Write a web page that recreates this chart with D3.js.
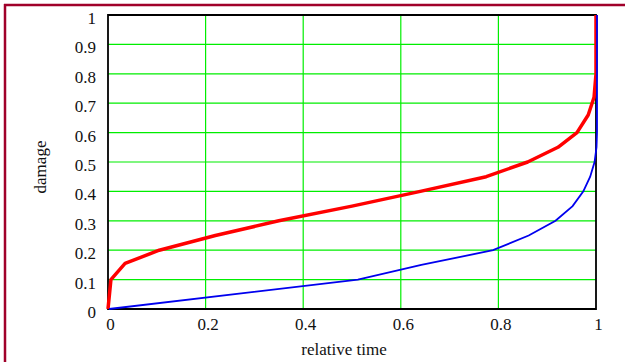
<!doctype html>
<html>
<head>
  <script src="https://d3js.org/d3.v7.min.js"></script>
</head>
<style>
  body {
    margin: 0;
    background: white;
  }
</style>
<body>
<svg></svg>

<script>
  // red curve (thick)
  const redTime = [0, 0.006, 0.035, 0.105, 0.22, 0.35, 0.5, 0.64, 0.775, 0.86, 0.922, 0.961, 0.984, 0.996, 1, 1];
  const redDamage = [0, 0.1, 0.155, 0.2, 0.25, 0.3, 0.35, 0.4, 0.45, 0.5, 0.55, 0.6, 0.66, 0.72, 0.8, 1];
  // blue curve (thin)
  const blueTime = [0, 0.51, 0.64, 0.787, 0.86, 0.915, 0.95, 0.972, 0.986, 0.995, 0.999, 1, 1];
  const blueDamage = [0, 0.1, 0.15, 0.2, 0.25, 0.3, 0.35, 0.4, 0.45, 0.5, 0.55, 0.6, 1];
  const xTicks = [0, 0.2, 0.4, 0.6, 0.8, 1];
  const yTicks = [0, 0.1, 0.2, 0.3, 0.4, 0.5, 0.6, 0.7, 0.8, 0.9, 1];

  const width = 625, height = 362;
  const plotLeft = 108, plotRight = 596, plotTop = 15, plotBottom = 309;
  const serif = '"Liberation Serif", "Times New Roman", serif';

  const x = d3.scaleLinear().domain([0, 1]).range([plotLeft, plotRight]);
  const y = d3.scaleLinear().domain([0, 1]).range([plotBottom, plotTop]);

  const svg = d3.select("svg")
    .attr("width", width)
    .attr("height", height);

  // page frame
  svg.append("line")
    .attr("x1", 4).attr("x2", width).attr("y1", 5).attr("y2", 5)
    .attr("stroke", "#a0002a").attr("stroke-width", 2.5);
  svg.append("line")
    .attr("x1", 5).attr("x2", 5).attr("y1", 4).attr("y2", height)
    .attr("stroke", "#a0002a").attr("stroke-width", 2.5);

  // grid
  svg.append("g")
    .selectAll("line")
    .data(yTicks.slice(1, -1))
    .join("line")
    .attr("x1", plotLeft).attr("x2", plotRight)
    .attr("y1", d => y(d)).attr("y2", d => y(d))
    .attr("stroke", "#00ee00").attr("stroke-width", 1.2);
  svg.append("g")
    .selectAll("line")
    .data(xTicks.slice(1, -1))
    .join("line")
    .attr("x1", d => x(d)).attr("x2", d => x(d))
    .attr("y1", plotTop).attr("y2", plotBottom)
    .attr("stroke", "#00ee00").attr("stroke-width", 1.2);

  // axes without tick marks
  const xAxis = svg.append("g")
    .attr("transform", `translate(0, ${plotBottom})`)
    .call(d3.axisBottom(x).tickValues(xTicks).tickSize(0).tickPadding(9).tickFormat(d3.format("")));
  const yAxis = svg.append("g")
    .attr("transform", `translate(${plotLeft}, 0)`)
    .call(d3.axisLeft(y).tickValues(yTicks).tickSize(0).tickPadding(12).tickFormat(d3.format("")));
  [xAxis, yAxis].forEach(function (g) {
    g.select(".domain").remove();
    g.selectAll("text")
      .style("font-family", serif)
      .style("font-size", "17px")
      .style("fill", "#111");
  });
  xAxis.selectAll("text").attr("dx", 2);
  yAxis.selectAll("text").attr("dy", "0.5em");

  // plot frame
  svg.append("path")
    .attr("d", `M${plotLeft},${plotTop}H${plotRight}V${plotBottom}H${plotLeft}Z`)
    .attr("fill", "none").attr("stroke", "black").attr("stroke-width", 1.8);

  const line = d3.line().x(d => x(d[0])).y(d => y(d[1]));

  svg.append("path")
    .datum(d3.zip(redTime, redDamage))
    .attr("d", line)
    .attr("fill", "none")
    .attr("stroke", "#ff0000")
    .attr("stroke-width", 3.5)
    .attr("stroke-linejoin", "round");

  svg.append("path")
    .datum(d3.zip(blueTime, blueDamage))
    .attr("d", line)
    .attr("fill", "none")
    .attr("stroke", "#0000ee")
    .attr("stroke-width", 1.8)
    .attr("transform", "translate(1, 0)");

  // axis titles
  svg.append("text")
    .attr("x", 344)
    .attr("y", 355)
    .attr("text-anchor", "middle")
    .style("font-family", serif)
    .style("font-size", "17px")
    .style("fill", "#111")
    .text("relative time");
  svg.append("text")
    .attr("transform", "translate(46, 167) rotate(-90)")
    .attr("text-anchor", "middle")
    .style("font-family", serif)
    .style("font-size", "17px")
    .style("fill", "#111")
    .text("damage");
</script>
</body>
</html>
